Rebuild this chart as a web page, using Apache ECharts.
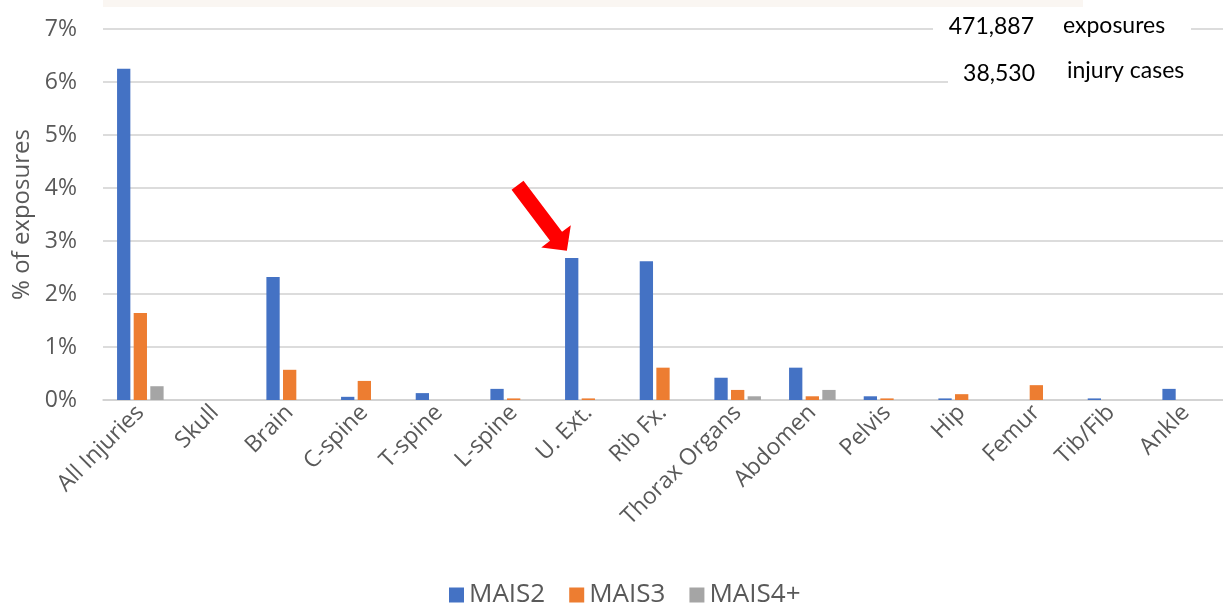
<!DOCTYPE html>
<html>
<head>
<meta charset="utf-8">
<title>Injury rates by body region</title>
<script src="https://cdn.jsdelivr.net/npm/echarts@6/dist/echarts.min.js"></script>
<style>
  html, body { margin: 0; padding: 0; background: #ffffff; }
  #chart { width: 1223px; height: 605px; }
</style>
</head>
<body>
<div id="chart"></div>
<script>
// Body regions on the category axis
const categories = ['All Injuries', 'Skull', 'Brain', 'C-spine', 'T-spine', 'L-spine', 'U. Ext.',
  'Rib Fx.', 'Thorax Organs', 'Abdomen', 'Pelvis', 'Hip', 'Femur', 'Tib/Fib', 'Ankle'];

// Share of exposures (%) by severity level
const mais2 = [6.25, 0, 2.32, 0.06, 0.13, 0.21, 2.68, 2.62, 0.42, 0.61, 0.07, 0.03, 0, 0.03, 0.21];
const mais3 = [1.64, 0, 0.57, 0.36, 0, 0.03, 0.03, 0.61, 0.19, 0.07, 0.03, 0.11, 0.28, 0, 0];
const mais4 = [0.26, 0, 0, 0, 0, 0, 0, 0, 0.07, 0.19, 0, 0, 0, 0, 0];

const seriesNames = ['MAIS2', 'MAIS3', 'MAIS4+'];
const yTicks = [0, 1, 2, 3, 4, 5, 6, 7];

// Sample size notes
const exposures = '471,887';
const injuryCases = '38,530';

// Region highlighted by the arrow
const highlightCategory = 'U. Ext.';
const highlightValue = mais2[categories.indexOf(highlightCategory)];

const colors = ['#4472C4', '#ED7D31', '#A5A5A5'];
const textColor = '#595959';
const gridColor = '#d0d0d0';
const uiFont = '"Open Sans", "Noto Sans", sans-serif';
const noteFont = 'Lato, "Open Sans", sans-serif';

const chart = echarts.init(document.getElementById('chart'), null, { renderer: 'canvas' });

const barBase = {
  type: 'bar',
  barWidth: 13.3,
  barGap: '25%',
  emphasis: { disabled: true }
};

const option = {
  animation: false,
  color: colors,
  grid: { left: 103, top: 29, width: 1125, height: 371, containLabel: false },
  legend: {
    top: 577,
    left: 444,
    icon: 'rect',
    itemWidth: 15,
    itemHeight: 15,
    itemGap: 24,
    textStyle: { color: textColor, fontSize: 26, fontFamily: uiFont },
    data: seriesNames
  },
  xAxis: {
    type: 'category',
    data: categories,
    axisTick: { show: false },
    axisLine: { show: true, lineStyle: { color: gridColor, width: 1.5 } },
    axisLabel: {
      interval: 0,
      rotate: 45,
      margin: 9,
      color: textColor,
      fontSize: 23,
      fontFamily: uiFont
    }
  },
  yAxis: {
    type: 'value',
    min: yTicks[0],
    max: yTicks[yTicks.length - 1],
    interval: 1,
    name: '% of exposures',
    nameLocation: 'middle',
    nameGap: 68,
    nameTextStyle: { color: textColor, fontSize: 24, fontFamily: uiFont },
    axisLine: { show: false },
    axisTick: { show: false },
    axisLabel: {
      formatter: '{value}%',
      color: textColor,
      fontSize: 23,
      fontFamily: uiFont,
      margin: 26
    },
    splitLine: { lineStyle: { color: gridColor, width: 1.5 } }
  },
  series: [
    Object.assign({}, barBase, {
      name: seriesNames[0],
      data: mais2,
      markPoint: {
        silent: true,
        symbol: 'path://M10,0 L25,0 L25,64 L36,64 L17.5,82 L-1,64 L10,64 Z',
        symbolSize: [37, 82],
        symbolRotate: 37,
        symbolOffset: [-29.5, -40],
        itemStyle: { color: '#ff0000' },
        label: { show: false },
        data: [{ coord: [highlightCategory, highlightValue] }]
      }
    }),
    Object.assign({}, barBase, { name: seriesNames[1], data: mais3 }),
    Object.assign({}, barBase, { name: seriesNames[2], data: mais4 })
  ],
  graphic: [
    // faint band along the top edge
    {
      type: 'rect', z: 50, silent: true,
      shape: { x: 103, y: 0, width: 980, height: 7 },
      style: { fill: '#faf6f2' }
    },
    // exposures note
    {
      type: 'rect', z: 100, silent: true,
      shape: { x: 933, y: 12, width: 258, height: 32 },
      style: { fill: '#ffffff' }
    },
    {
      type: 'text', z: 101, silent: true,
      x: 1034, y: 27,
      style: { text: exposures, align: 'right', verticalAlign: 'middle', fill: '#000000', fontSize: 23, fontFamily: noteFont }
    },
    {
      type: 'text', z: 101, silent: true,
      x: 1063, y: 26,
      style: { text: 'exposures', align: 'left', verticalAlign: 'middle', fill: '#000000', fontSize: 23, fontFamily: noteFont }
    },
    // injury cases note
    {
      type: 'rect', z: 100, silent: true,
      shape: { x: 948, y: 58, width: 280, height: 32 },
      style: { fill: '#ffffff' }
    },
    {
      type: 'text', z: 101, silent: true,
      x: 1035, y: 74,
      style: { text: injuryCases, align: 'right', verticalAlign: 'middle', fill: '#000000', fontSize: 23, fontFamily: noteFont }
    },
    {
      type: 'text', z: 101, silent: true,
      x: 1067, y: 71,
      style: { text: 'injury cases', align: 'left', verticalAlign: 'middle', fill: '#000000', fontSize: 23, fontFamily: noteFont }
    }
  ]
};

chart.setOption(option);
</script>
</body>
</html>
